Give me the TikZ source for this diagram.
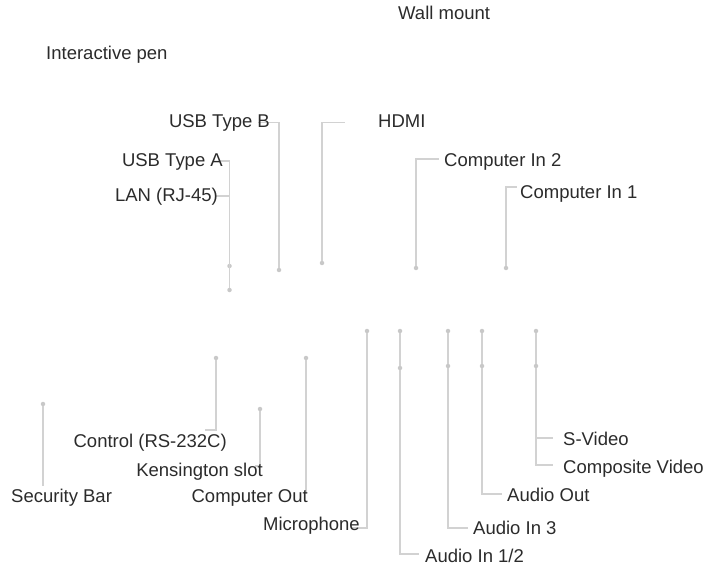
\documentclass[tikz,border=0pt]{standalone}
\usepackage{fontspec}
\setmainfont{Liberation Sans}
\definecolor{txtgray}{HTML}{2B2B2B}
\definecolor{linegray}{HTML}{D2D2D2}
\definecolor{dotgray}{HTML}{C8C8C8}
\tikzset{
  lbl/.style={inner sep=0pt, text=txtgray, font=\fontsize{18.5}{22}\selectfont},
  lw/.style={lbl, anchor=base west},
  le/.style={lbl, anchor=base east},
  conn/.style={draw=linegray, line width=1.3pt},
  dot/.style={circle, fill=dotgray, inner sep=0pt, minimum size=4.5pt},
}
\begin{document}
\begin{tikzpicture}[x=1pt,y=-1pt]
\useasboundingbox (0,0) rectangle (705,567);
% dots
\node[dot] (dUSBB) at (279,270) {};
\node[dot] (dHDMI) at (322,263) {};
\node[dot] (dUSBA) at (229.5,266) {};
\node[dot] (dLAN)  at (229.5,290) {};
\node[dot] (dCI2)  at (416,268) {};
\node[dot] (dCI1)  at (506,268) {};
\node[dot] (dSec)  at (43,404) {};
\node[dot] (dCtl)  at (216,358) {};
\node[dot] (dKen)  at (260,409) {};
\node[dot] (dCOut) at (306,358) {};
\node[dot] (dMic)  at (367,331) {};
\node[dot] (dA12a) at (400,331) {};
\node[dot] (dA12b) at (400,368) {};
\node[dot] (dA3a)  at (448,331) {};
\node[dot] (dA3b)  at (448,366) {};
\node[dot] (dAOa)  at (482,331) {};
\node[dot] (dAOb)  at (482,366) {};
\node[dot] (dSV)   at (536,331) {};
\node[dot] (dCV)   at (536,366) {};
% elbow ends
\coordinate (eUSBB) at (258,122.7);
\coordinate (eHDMI) at (345,122.7);
\coordinate (eUSBA) at (219,161);
\coordinate (eLAN)  at (216,196);
\coordinate (eCI2)  at (439,159);
\coordinate (eCI1)  at (517,187);
\coordinate (eSec)  at (43,486);
\coordinate (eCtl)  at (205,430);
\coordinate (eKen)  at (255,466);
\coordinate (eCOut) at (306,494);
\coordinate (eMic)  at (351,528);
\coordinate (eA12)  at (419,554);
\coordinate (eA3)   at (468,528);
\coordinate (eAO)   at (502,494);
\coordinate (eSV)   at (553,438);
\coordinate (eCV)   at (553,465);
\draw[conn] (dUSBB) |- (eUSBB);
\draw[conn] (dHDMI) |- (eHDMI);
\draw[conn] (dUSBA) |- (eUSBA);
\draw[conn] (dLAN)  |- (eLAN);
\draw[conn] (dCI2)  |- (eCI2);
\draw[conn] (dCI1)  |- (eCI1);
\draw[conn] (dSec)  -- (eSec);
\draw[conn] (dCtl)  |- (eCtl);
\draw[conn] (dKen)  |- (eKen);
\draw[conn] (dCOut) -- (eCOut);
\draw[conn] (dMic)  |- (eMic);
\draw[conn] (dA12a) -- (dA12b);
\draw[conn] (dA12b) |- (eA12);
\draw[conn] (dA3a)  -- (dA3b);
\draw[conn] (dA3b)  |- (eA3);
\draw[conn] (dAOa)  -- (dAOb);
\draw[conn] (dAOb)  |- (eAO);
\draw[conn] (dSV)   -- (dCV);
\draw[conn] (dCV)   |- (eSV);
\draw[conn] (dCV)   |- (eCV);
% labels
\node[lw] (tWall) at (398,20) {Wall mount};
\node[lw] (tPen)  at (46,60) {Interactive pen};
\node[le] (tUSBB) at (270,128) {USB Type B};
\node[lw] (tHDMI) at (378,128) {HDMI};
\node[le] (tUSBA) at (223,167) {USB Type A};
\node[le] (tLAN)  at (218,202) {LAN (RJ-45)};
\node[lw] (tCI2)  at (444,167) {Computer In 2};
\node[lw] (tCI1)  at (520,199) {Computer In 1};
\node[lw] (tSec)  at (11,502) {Security Bar};
\node[le] (tCtl)  at (227,447) {Control (RS-232C)};
\node[le] (tKen)  at (263,476) {Kensington slot};
\node[le] (tCOut) at (308,502) {Computer Out};
\node[le] (tMic)  at (360,530) {Microphone};
\node[lw] (tA12)  at (425,562) {Audio In 1/2};
\node[lw] (tA3)   at (473,534) {Audio In 3};
\node[lw] (tAO)   at (507,501) {Audio Out};
\node[lw] (tSV)   at (563,445) {S-Video};
\node[lw] (tCV)   at (563,473) {Composite Video};
\end{tikzpicture}
\end{document}
